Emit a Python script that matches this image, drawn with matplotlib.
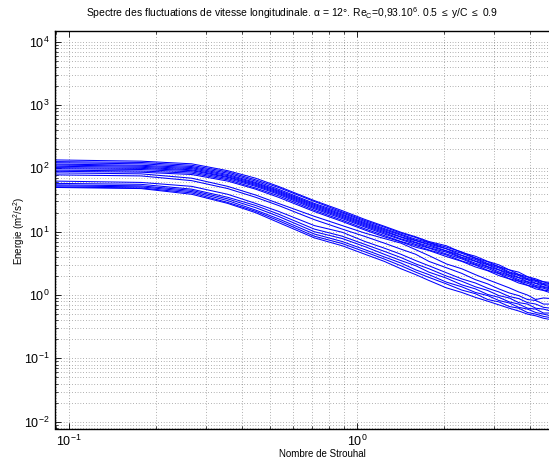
import numpy as np
import matplotlib
matplotlib.use("Agg")
import matplotlib.pyplot as plt
from matplotlib.ticker import NullFormatter, LogLocator

plt.rcParams['font.family'] = ['Liberation Sans', 'DejaVu Sans']
plt.rcParams['mathtext.fontset'] = 'custom'
plt.rcParams['mathtext.rm'] = 'Liberation Sans'
plt.rcParams['mathtext.it'] = 'Liberation Sans'

# sample index of each spectrum point (frequency step ~0.0889 Strouhal)
k_index = np.array([1, 2, 3, 4, 5, 6, 8, 10, 12, 14, 16, 18, 20, 23, 26, 29,
                    32, 35, 38, 41, 44, 47, 50, 53])
strouhal = k_index * 0.0889

# upper cluster of spectra (m^2/s^2)
upper = [
    [136, 130, 118, 92, 70, 52, 31, 21.5, 15.6, 12.2, 9.8, 8.3, 7.0, 6.0, 4.7, 4.1, 3.4, 3.0, 2.5, 2.3, 1.95, 1.8, 1.62, 1.58],
    [128, 124, 112, 88, 66, 50, 30, 20.5, 15, 11.8, 9.5, 8.1, 6.8, 5.7, 4.8, 3.85, 3.35, 2.8, 2.5, 2.12, 1.93, 1.72, 1.62, 1.48],
    [123, 118, 107, 84, 63, 47, 28, 19.8, 14.4, 11.2, 9.1, 7.6, 6.7, 5.4, 4.55, 3.8, 3.15, 2.8, 2.32, 2.1, 1.82, 1.7, 1.52, 1.47],
    [117, 112, 103, 80, 60, 45, 27, 18.9, 13.8, 10.8, 8.8, 7.3, 6.4, 5.35, 4.25, 3.65, 3.05, 2.68, 2.25, 2.03, 1.76, 1.64, 1.47, 1.41],
    [113, 108, 99, 77, 58, 43.5, 26, 18.2, 13.3, 10.4, 8.3, 7.2, 6.2, 5.0, 4.2, 3.45, 3.0, 2.52, 2.2, 1.9, 1.74, 1.54, 1.45, 1.33],
    [108, 104, 95, 74, 56, 42, 25, 17.5, 12.8, 10.0, 8.2, 6.8, 5.9, 4.95, 3.95, 3.4, 2.82, 2.48, 2.08, 1.87, 1.63, 1.52, 1.36, 1.3],
    [103, 100, 92, 72, 54, 40.5, 24, 16.8, 12.3, 9.6, 7.7, 6.65, 5.6, 4.75, 3.85, 3.18, 2.77, 2.32, 2.04, 1.75, 1.6, 1.42, 1.33, 1.24],
    [99, 96, 88, 69, 52, 39, 23, 16.1, 11.8, 9.2, 7.5, 6.3, 5.5, 4.45, 3.72, 3.05, 2.64, 2.22, 1.95, 1.68, 1.53, 1.36, 1.28, 1.18],
    [94, 91, 84, 66, 49, 37, 21.8, 15.2, 11.1, 8.7, 7.0, 6.05, 5.15, 4.3, 3.45, 2.98, 2.46, 2.17, 1.82, 1.65, 1.43, 1.33, 1.2, 1.15],
    [90, 87, 80, 63, 47, 35, 20.8, 14.5, 10.6, 8.3, 6.9, 5.7, 5.05, 4.05, 3.4, 2.78, 2.42, 2.03, 1.8, 1.55, 1.42, 1.25, 1.18, 1.08],
]

# lower group of spectra (m^2/s^2)
lower = [
    [85, 82, 70, 52, 38, 28, 17.5, 12.5, 9.5, 7.8, 6.6, 5.2, 4.2, 3.1, 2.6, 2.1, 1.75, 1.5, 1.3, 1.12, 1.0, 0.85, 0.9, 0.88],
    [79, 76, 64, 48, 35, 26, 15.5, 11, 8.4, 6.6, 5.3, 4.4, 3.4, 2.7, 2.2, 1.75, 1.5, 1.25, 1.08, 0.98, 0.85, 0.82, 0.72, 0.72],
    [63, 60, 52, 39, 28, 21, 12.5, 9.8, 7.0, 5.5, 4.4, 3.5, 2.9, 2.25, 1.8, 1.55, 1.28, 1.12, 0.95, 0.88, 0.76, 0.72, 0.64, 0.62],
    [58, 56, 47, 35, 26, 19, 11, 8.5, 6.3, 4.9, 3.9, 3.1, 2.6, 2.0, 1.65, 1.35, 1.18, 0.98, 0.9, 0.76, 0.72, 0.62, 0.6, 0.56],
    [55, 53, 45, 33, 24, 17.5, 10, 7.8, 5.8, 4.4, 3.5, 2.9, 2.3, 1.85, 1.45, 1.25, 1.02, 0.92, 0.78, 0.72, 0.62, 0.6, 0.52, 0.52],
    [53, 51, 43, 31, 22, 16, 9.2, 7.0, 5.2, 4.0, 3.2, 2.5, 2.1, 1.6, 1.35, 1.1, 0.98, 0.82, 0.75, 0.64, 0.6, 0.53, 0.5, 0.47],
    [51, 49, 41, 29, 21, 15, 8.5, 6.5, 4.8, 3.7, 2.9, 2.3, 1.9, 1.5, 1.2, 1.05, 0.85, 0.78, 0.66, 0.62, 0.53, 0.5, 0.46, 0.44],
    [50, 48, 39, 28, 20, 14, 8.0, 6.0, 4.4, 3.4, 2.6, 2.1, 1.7, 1.3, 1.1, 0.92, 0.8, 0.7, 0.62, 0.56, 0.5, 0.47, 0.43, 0.41],
]

fig = plt.figure(figsize=(5.49, 4.63), dpi=100)
ax = fig.add_axes([54.7 / 549, 1 - 428.5 / 463, 1 - 54.7 / 549, (428.5 - 31.5) / 463])

for spec in upper + lower:
    ax.loglog(strouhal, spec, color='#0000ff', lw=0.75)

ax.set_xlim(0.0892, 4.645)
ax.set_ylim(10 ** -2.107, 10 ** 4.161)
ax.set_xticks([0.1, 1])
ax.xaxis.set_minor_locator(LogLocator(base=10, subs=np.arange(2, 10)))
ax.xaxis.set_minor_formatter(NullFormatter())
ax.set_yticks([1e-2, 1e-1, 1, 1e1, 1e2, 1e3, 1e4])
ax.yaxis.set_minor_locator(LogLocator(base=10, subs=np.arange(2, 10)))
ax.yaxis.set_minor_formatter(NullFormatter())

ax.grid(True, which='both', color='k', linestyle=(0, (1, 3)), lw=0.5, alpha=0.6)
ax.tick_params(which='both', direction='in', top=True, right=False, labelsize=9)
ax.tick_params(which='major', length=4, width=0.6)
ax.tick_params(which='minor', length=2, width=0.5)
ax.spines['right'].set_visible(False)
for s in ['left', 'bottom', 'top']:
    ax.spines[s].set_linewidth(1.0)

fig.text(292 / 549, 1 - 13 / 463,
         r'Spectre des fluctuations de vitesse longitudinale. $\alpha$ = 12°. '
         r'Re$_C$=0,93.10$^6$. 0.5 $\leq$ y/C $\leq$ 0.9',
         ha='center', va='center', fontsize=7.5)
fig.text(322 / 549, 1 - 454 / 463, 'Nombre de Strouhal', ha='center', va='center', fontsize=7)
fig.text(19 / 549, 1 - 231 / 463, r'Energie (m$^2$/s$^2$)', ha='center', va='center',
         rotation=90, fontsize=7)

fig.savefig('out.png', dpi=100)
